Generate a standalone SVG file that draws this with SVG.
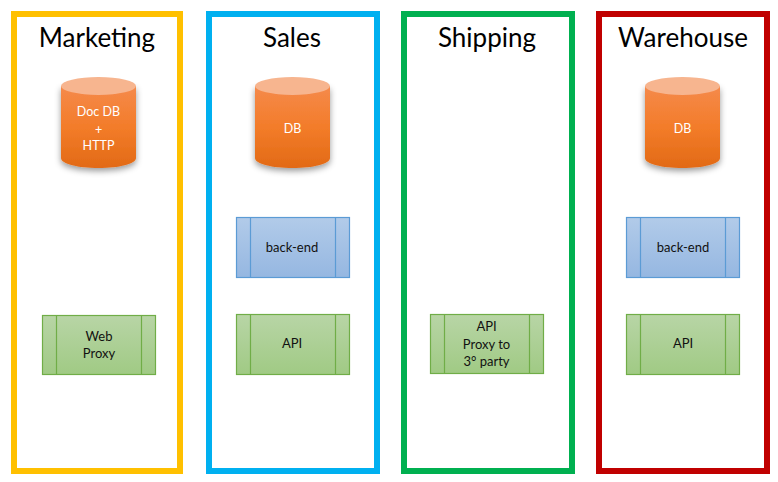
<svg xmlns="http://www.w3.org/2000/svg" width="778" height="482" viewBox="0 0 778 482">
<style>
text{font-family:Lato,"Open Sans","Liberation Sans",sans-serif;text-anchor:middle}
.frame{fill:#fff;stroke-width:6}
.title{font-size:26px;fill:#000}
.label{font-size:13px;fill:#111}
.dblabel{font-size:12.500px;fill:#fff}
.top{fill:#f7b58f}
.body{fill:url(#orange);filter:url(#shadow)}
.blue{fill:url(#blueG);stroke:#5b9bd5;stroke-width:1.2}
.green{fill:url(#greenG);stroke:#70ad47;stroke-width:1.2}
</style>
<defs>
<linearGradient id="orange" x1="0" y1="0" x2="0" y2="1"><stop offset="0" stop-color="#f58a4b"/><stop offset="0.5" stop-color="#f37c2a"/><stop offset="1" stop-color="#e26a15"/></linearGradient>
<linearGradient id="blueG" x1="0" y1="0" x2="0" y2="1"><stop offset="0" stop-color="#b2cbe9"/><stop offset="1" stop-color="#95b7e1"/></linearGradient>
<linearGradient id="greenG" x1="0" y1="0" x2="0" y2="1"><stop offset="0" stop-color="#b8d5a6"/><stop offset="1" stop-color="#a0ca84"/></linearGradient>
<filter id="shadow" x="-20%" y="-10%" width="140%" height="125%"><feDropShadow dx="0" dy="3" stdDeviation="3" flood-color="#000" flood-opacity="0.4"/></filter>
<g id="cyl"><path class="body" d="M0 9V81C0 87 17 91 37.500 91S75 87 75 81V9Z"/><ellipse class="top" cx="37.500" cy="9" rx="37.500" ry="9"/></g>
</defs>
<g id="marketing">
<rect class="frame" x="14" y="14" width="166" height="457" stroke="#ffc000"/>
<text class="title" x="97" y="47">Marketing</text>
<use href="#cyl" x="61" y="77"/>
<text class="dblabel" x="98.500" y="116">Doc DB</text><text class="dblabel" x="98.500" y="134">+</text><text class="dblabel" x="98.500" y="150">HTTP</text>
<rect class="green" x="42.500" y="315.500" width="113" height="59"/><path class="green" d="M56.500 315.500V374.500M141.500 315.500V374.500"/>
<text class="label" x="99" y="341">Web</text><text class="label" x="99" y="358">Proxy</text>
</g>
<g id="sales">
<rect class="frame" x="209" y="14" width="168" height="457" stroke="#00b0f0"/>
<text class="title" x="292" y="47">Sales</text>
<use href="#cyl" x="255" y="77"/>
<text class="dblabel" x="292.500" y="133">DB</text>
<rect class="blue" x="236.500" y="217.500" width="113" height="60"/><path class="blue" d="M250.500 217.500V277.500M335.500 217.500V277.500"/>
<text class="label" x="292" y="252">back-end</text>
<rect class="green" x="236.500" y="314.500" width="113" height="60"/><path class="green" d="M250.500 314.500V374.500M335.500 314.500V374.500"/>
<text class="label" x="292" y="348">API</text>
</g>
<g id="shipping">
<rect class="frame" x="404" y="14" width="168" height="457" stroke="#00b050"/>
<text class="title" x="487" y="47">Shipping</text>
<rect class="green" x="430.500" y="314.500" width="113" height="59"/><path class="green" d="M444.500 314.500V373.500M529.500 314.500V373.500"/>
<text class="label" x="486.500" y="331">API</text><text class="label" x="486.500" y="349">Proxy to</text><text class="label" x="486.500" y="366">3° party</text>
</g>
<g id="warehouse">
<rect class="frame" x="599" y="14" width="168" height="457" stroke="#c00000"/>
<text class="title" x="683" y="47">Warehouse</text>
<use href="#cyl" x="645" y="77"/>
<text class="dblabel" x="682.500" y="133">DB</text>
<rect class="blue" x="626.500" y="217.500" width="113" height="60"/><path class="blue" d="M640.500 217.500V277.500M725.500 217.500V277.500"/>
<text class="label" x="683" y="252">back-end</text>
<rect class="green" x="626.500" y="314.500" width="113" height="60"/><path class="green" d="M640.500 314.500V374.500M725.500 314.500V374.500"/>
<text class="label" x="683" y="348">API</text>
</g>
</svg>
